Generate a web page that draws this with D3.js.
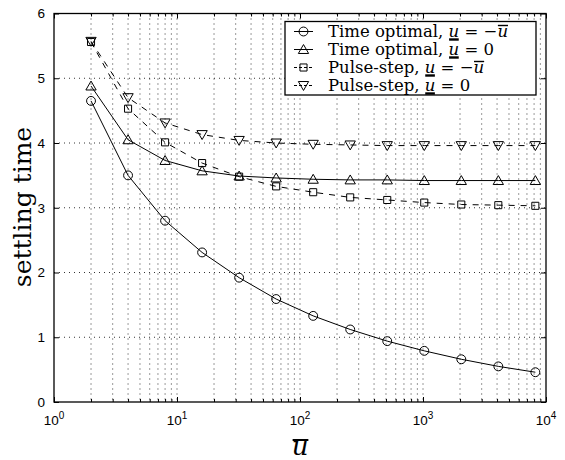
<!DOCTYPE html>
<html>
<head>
<meta charset="utf-8">
<script src="https://cdn.jsdelivr.net/npm/d3@7"></script>
<style>
  body { margin: 0; background: #fff; }
  svg { display: block; }
  .tick text { font-family: "Liberation Sans", Arial, sans-serif; }
</style>
</head>
<body>
<svg id="chart" width="565" height="460"></svg>
<script>
// data: u-bar values (2^k) and settling times
const ubar = [2, 4, 8, 16, 32, 64, 128, 256, 512, 1024, 2048, 4096, 8192];
const timeOptNeg = [4.65, 3.50, 2.80, 2.31, 1.92, 1.59, 1.33, 1.12, 0.94, 0.79, 0.66, 0.55, 0.46];
const timeOptZero = [4.88, 4.05, 3.73, 3.57, 3.49, 3.46, 3.44, 3.43, 3.43, 3.42, 3.42, 3.42, 3.42];
const pulseNeg = [5.56, 4.53, 4.01, 3.69, 3.48, 3.33, 3.24, 3.16, 3.12, 3.08, 3.05, 3.04, 3.03];
const pulseZero = [5.57, 4.70, 4.31, 4.13, 4.04, 4.00, 3.98, 3.97, 3.96, 3.96, 3.96, 3.96, 3.96];

const xMajor = [1, 10, 100, 1000, 10000];
const xExp = ["0", "1", "2", "3", "4"];
const yTicks = [0, 1, 2, 3, 4, 5, 6];

// series setup
const series = [
  {name: "timeOptNeg", values: timeOptNeg, marker: "circle", dash: null, label: ["Time optimal, ", "u", " = \u2212", "u"]},
  {name: "timeOptZero", values: timeOptZero, marker: "tri", dash: null, label: ["Time optimal, ", "u", " = 0"]},
  {name: "pulseNeg", values: pulseNeg, marker: "square", dash: "6,6", label: ["Pulse-step, ", "u", " = \u2212", "u"]},
  {name: "pulseZero", values: pulseZero, marker: "triDown", dash: "6,6", label: ["Pulse-step, ", "u", " = 0"]}
];

const svg = d3.select("#chart");
const mLeft = 54, mRight = 546, mTop = 13.5, mBottom = 402;

const x = d3.scaleLog().domain([1, 1e4]).range([mLeft, mRight]);
const y = d3.scaleLinear().domain([0, 6]).range([mBottom, mTop]);

// minor log positions 2..9 in each decade
const xMinor = [];
for (let d = 1; d < 1e4; d *= 10) {
  for (let m = 2; m <= 9; m++) xMinor.push(d * m);
}

// grid
const grid = svg.append("g").attr("stroke", "#000").attr("stroke-width", 0.8)
  .attr("stroke-dasharray", "1,4");
grid.selectAll(".vg").data(xMinor.concat(xMajor.slice(1, -1))).enter().append("line")
  .attr("x1", d => x(d)).attr("x2", d => x(d))
  .attr("y1", mTop).attr("y2", mBottom);
grid.selectAll(".hg").data(yTicks.slice(1, -1)).enter().append("line")
  .attr("x1", mLeft).attr("x2", mRight)
  .attr("y1", d => y(d)).attr("y2", d => y(d));

// axes with inward ticks
svg.append("g").attr("transform", `translate(0,${mBottom})`)
  .call(d3.axisBottom(x).tickValues(xMajor).tickSize(-5).tickFormat(""));
svg.append("g").attr("transform", `translate(0,${mTop})`)
  .call(d3.axisTop(x).tickValues(xMajor).tickSize(-5).tickFormat(""));
svg.append("g").attr("transform", `translate(0,${mBottom})`)
  .call(d3.axisBottom(x).tickValues(xMinor).tickSize(-3).tickFormat(""));
svg.append("g").attr("transform", `translate(0,${mTop})`)
  .call(d3.axisTop(x).tickValues(xMinor).tickSize(-3).tickFormat(""));
const gy = svg.append("g").attr("transform", `translate(${mLeft},0)`)
  .call(d3.axisLeft(y).tickValues(yTicks).tickSize(-5).tickPadding(9).tickFormat(d3.format("d")));
svg.append("g").attr("transform", `translate(${mRight},0)`)
  .call(d3.axisRight(y).tickValues(yTicks).tickSize(-5).tickFormat(""));
svg.selectAll(".domain").remove();
svg.selectAll(".tick line").attr("stroke", "#000");
gy.selectAll("text").attr("font-size", 13.5).attr("fill", "#000");

// x tick labels: 10 with superscript
xMajor.forEach((v, i) => {
  const t = svg.append("text").attr("x", x(v)).attr("y", mBottom + 23)
    .attr("text-anchor", "middle")
    .attr("font-family", "Liberation Sans, Arial, sans-serif").attr("font-size", 13.5);
  t.append("tspan").text("10");
  t.append("tspan").attr("dy", -6).attr("font-size", 10).text(xExp[i]);
});

// frame
svg.append("rect").attr("x", mLeft).attr("y", mTop)
  .attr("width", mRight - mLeft).attr("height", mBottom - mTop)
  .attr("fill", "none").attr("stroke", "#000").attr("stroke-width", 1.3);

// markers
const markerPath = {
  circle: d3.symbol(d3.symbolCircle, 62)(),
  square: d3.symbol(d3.symbolSquare, 50)(),
  tri: d3.symbol(d3.symbolTriangle, 46)(),
  triDown: d3.symbol(d3.symbolTriangle, 46)()
};
function drawMarker(g, type, cx, cy) {
  const rot = type === "triDown" ? " rotate(180)" : "";
  const dy = type === "tri" ? 1 : type === "triDown" ? -1 : 0;
  g.append("path").attr("d", markerPath[type])
    .attr("transform", `translate(${cx},${cy + dy})${rot}`)
    .attr("fill", "none").attr("stroke", "#000").attr("stroke-width", 1);
}

const line = d3.line().x(d => x(d[0])).y(d => y(d[1]));
series.forEach(s => {
  const pts = ubar.map((u, i) => [u, s.values[i]]);
  svg.append("path").datum(pts).attr("d", line)
    .attr("fill", "none").attr("stroke", "#000").attr("stroke-width", 1)
    .attr("stroke-dasharray", s.dash);
  const g = svg.append("g");
  pts.forEach(p => drawMarker(g, s.marker, x(p[0]), y(p[1])));
});

// legend
const lg = svg.append("g");
lg.append("rect").attr("x", 285).attr("y", 21.5).attr("width", 251).attr("height", 73.5)
  .attr("fill", "#fff").attr("stroke", "#000").attr("stroke-width", 1.3);
series.forEach((s, i) => {
  const cy = 31.5 + i * 18;
  lg.append("line").attr("x1", 294).attr("x2", 313).attr("y1", cy).attr("y2", cy)
    .attr("stroke", "#000").attr("stroke-width", 1).attr("stroke-dasharray", s.dash ? "3,2" : null);
  drawMarker(lg, s.marker, 303.5, cy);
  const t = lg.append("text").attr("x", 328).attr("y", cy + 5.5)
    .attr("font-family", "DejaVu Serif, serif").attr("font-size", 16.5).attr("fill", "#000");
  const parts = s.label.map((p, k) => {
    const sp = t.append("tspan").text(p);
    if (p === "u") sp.attr("font-style", "italic");
    return sp;
  });
  // underline for first u, overline for second u
  const b1 = parts[1].node().getBBox();
  lg.append("line").attr("x1", b1.x + 0.5).attr("x2", b1.x + b1.width - 0.5)
    .attr("y1", cy + 8).attr("y2", cy + 8).attr("stroke", "#000").attr("stroke-width", 2.4);
  if (parts[3]) {
    const b2 = parts[3].node().getBBox();
    lg.append("line").attr("x1", b2.x + 0.5).attr("x2", b2.x + b2.width)
      .attr("y1", cy - 6).attr("y2", cy - 6).attr("stroke", "#000").attr("stroke-width", 1.4);
  }
});

// axis titles
svg.append("text").attr("transform", "translate(31,207) rotate(-90)")
  .attr("text-anchor", "middle").attr("font-family", "DejaVu Serif, serif")
  .attr("font-size", 25).attr("fill", "#000").text("settling time");
const xl = svg.append("text").attr("x", 300).attr("y", 455).attr("text-anchor", "middle")
  .attr("font-family", "DejaVu Serif, serif").attr("font-style", "italic")
  .attr("font-size", 26).attr("fill", "#000").text("u");
const bx = xl.node().getBBox();
svg.append("line").attr("x1", bx.x + 1).attr("x2", bx.x + bx.width)
  .attr("y1", 440).attr("y2", 440).attr("stroke", "#000").attr("stroke-width", 2);
</script>
</body>
</html>
